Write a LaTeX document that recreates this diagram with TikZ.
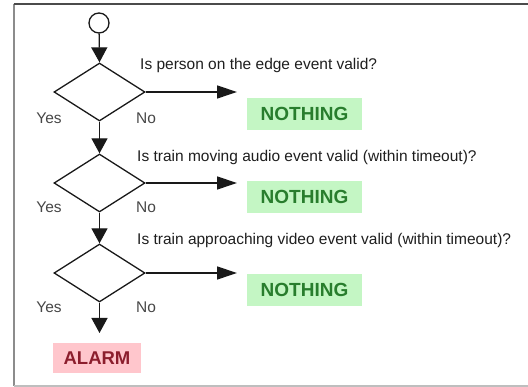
\documentclass[tikz,border=0pt]{standalone}
\usepackage{fontspec}
\setmainfont{Liberation Sans}
\usetikzlibrary{shapes.geometric,arrows.meta}
\definecolor{nfill}{RGB}{196,246,196}
\definecolor{ntext}{RGB}{40,125,45}
\definecolor{afill}{RGB}{255,198,204}
\definecolor{atext}{RGB}{140,30,45}
\definecolor{framedark}{RGB}{75,75,75}
\definecolor{framemid}{RGB}{140,140,140}
\definecolor{framelight}{RGB}{190,190,190}
\begin{document}
\begin{tikzpicture}[x=1pt,y=-1pt,
  dec/.style={draw=black!90, line width=1.3pt, shape=diamond, minimum width=91pt, minimum height=58pt, inner sep=0pt},
  q/.style={anchor=west, font=\fontsize{15.5}{18}\selectfont, text=black!88, inner sep=0pt},
  yn/.style={font=\fontsize{15.5}{18}\selectfont, text=black!72, inner sep=0pt},
  nbox/.style={fill=nfill, text=ntext, font=\fontsize{19}{21}\selectfont\bfseries, minimum width=115pt, minimum height=32pt, inner sep=0pt},
  abox/.style={fill=afill, text=atext, font=\fontsize{18.5}{21}\selectfont\bfseries, minimum width=88pt, minimum height=30pt, inner sep=0pt},
  darr/.style={draw=black!90, line width=1.3pt, -{Triangle[length=15pt,width=16pt]}},
  rarr/.style={draw=black!90, line width=1.3pt, -{Triangle[length=20pt,width=13pt]}}
]
\useasboundingbox (0,0) rectangle (528,387);
\fill[white] (0,0) rectangle (528,387);
% frame
\draw[framemid, line width=1.5pt] (14,4) -- (14,386);
\draw[framelight, line width=1.5pt] (14,386) -- (528,386);
\draw[framedark, line width=2pt] (13.5,4.5) -- (528,4.5);

% nodes
\node[circle, draw=black!90, line width=1.3pt, minimum size=20pt, inner sep=0pt] (start) at (99,23) {};
\node[dec] (d1) at (99.5,92) {};
\node[dec] (d2) at (99.5,183) {};
\node[dec] (d3) at (99.5,273) {};

\node[q] (q1) at (140,65) {Is person on the edge event valid?};
\node[q] (q2) at (137,157) {Is train moving audio event valid (within timeout)?};
\node[q] (q3) at (137,240) {Is train approaching video event valid (within timeout)?};

\node[yn] (y1) at (49,118) {Yes};
\node[yn] (n1) at (146,118) {No};
\node[yn] (y2) at (49,207) {Yes};
\node[yn] (n2) at (146,207) {No};
\node[yn] (y3) at (49,307) {Yes};
\node[yn] (n3) at (146,307) {No};

\node[nbox] (nothing1) at (304.5,114) {NOTHING};
\node[nbox] (nothing2) at (304.5,197) {NOTHING};
\node[nbox] (nothing3) at (304.5,290) {NOTHING};
\node[abox] (alarm) at (97,358) {ALARM};

\coordinate (e1) at (237,92);
\coordinate (e2) at (237,183);
\coordinate (e3) at (237,273);
\coordinate (ea) at (99.5,333);

% connectors
\draw[darr] (start) -- (d1.north);
\draw[darr] (d1.south) -- (d2.north);
\draw[darr] (d2.south) -- (d3.north);
\draw[darr] (d3.south) -- (ea);
\draw[rarr] (d1.east) -- (e1);
\draw[rarr] (d2.east) -- (e2);
\draw[rarr] (d3.east) -- (e3);
\end{tikzpicture}
\end{document}
